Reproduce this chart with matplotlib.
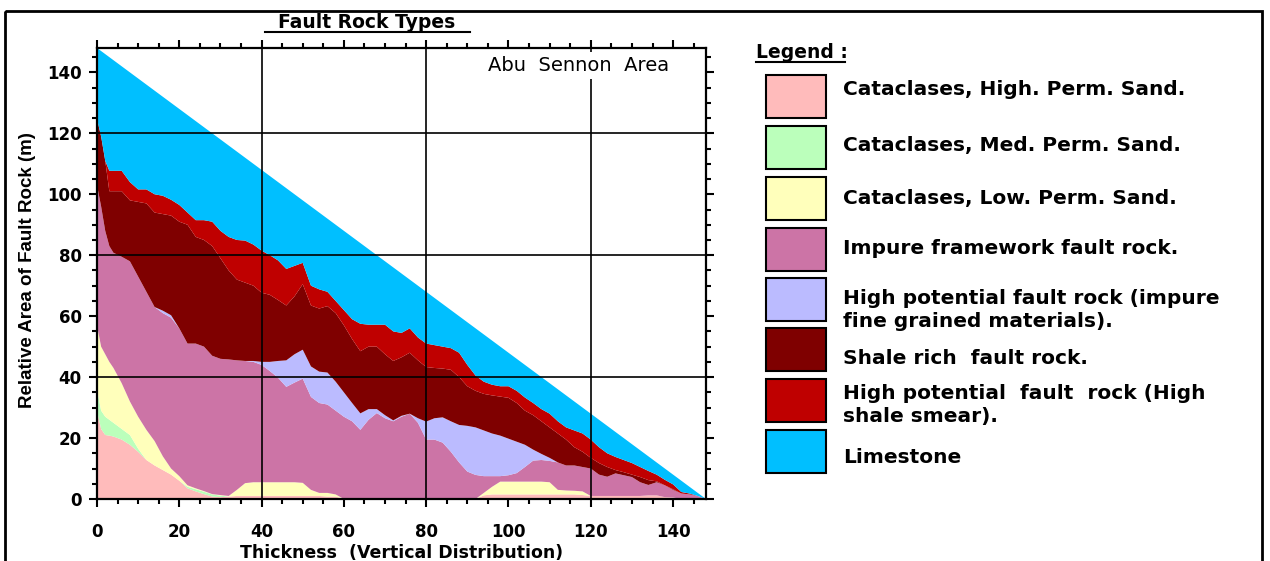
import matplotlib
matplotlib.use("Agg")  # no display
import matplotlib.pyplot as plt
from matplotlib.patches import Rectangle
from matplotlib.ticker import MultipleLocator

plt.rcParams['font.family'] = ['DejaVu Sans']

# Thickness (vertical distribution) sample positions
thickness = [0, 1, 2, 3, 4,
             6, 8, 10, 12, 14, 16, 18, 20, 22, 24, 26, 28, 30, 32, 34, 36, 38, 40,
             42, 44, 46, 48, 50, 52, 54, 56, 58, 60, 62, 64, 66, 68, 70, 72, 74, 76, 78, 80,
             82, 84, 86, 88, 90, 92, 94, 96, 98, 100, 102, 104, 106, 108, 110, 112, 114, 116, 118, 120,
             122, 124, 126, 128, 130, 132, 134, 136, 138, 140, 142, 144, 146, 148]

# Cumulative top of each fault rock band (m), bottom band first
high_perm_top = [29, 23, 21, 20.8, 20.5,
                 19.5, 17.8, 15.5, 12.8, 11, 9.5, 8, 6, 3.5, 2.5, 1.6, 0.8, 0.6, 0.8, 1, 1, 1, 1,
                 1, 1, 1, 1, 1, 1, 1, 0.8, 0.8, 0, 0, 0, 0, 0, 0, 0, 0, 0, 0, 0,
                 0, 0, 0, 0, 0, 0, 1.2, 1.5, 1.5, 1.5, 1.5, 1.5, 1.5, 1.5, 1.5, 1.5, 1.5, 1.5, 1.3, 1,
                 1, 1, 1, 1, 1, 1, 1.2, 1.2, 0.6, 0.5, 0, 0, 0, 0]

med_perm_top = [36, 29, 27, 26, 25,
                23, 21, 16.5, 12.8, 11, 9.5, 8, 6, 4, 3.2, 2.4, 1.5, 1.1, 0.8, 1, 1, 1, 1,
                1, 1, 1, 1, 1, 1, 1, 0.8, 0.8, 0, 0, 0, 0, 0, 0, 0, 0, 0, 0, 0,
                0, 0, 0, 0, 0, 0, 1.2, 1.5, 1.5, 1.5, 1.5, 1.5, 1.5, 1.5, 1.5, 1.5, 1.5, 1.5, 1.3, 1,
                1, 1, 1, 1, 1, 1, 1.2, 1.2, 0.6, 0.5, 0, 0, 0, 0]

low_perm_top = [57, 50, 47.5, 45, 43,
                38, 32, 27, 22.7, 19, 14, 10, 7.5, 4.5, 3.5, 2.6, 1.6, 1.3, 1, 3, 5.2, 5.5, 5.5,
                5.5, 5.5, 5.5, 5.5, 5.3, 3, 2, 2, 1.5, 0, 0, 0, 0, 0, 0, 0, 0, 0, 0, 0,
                0, 0, 0, 0, 0, 0, 2, 4, 5.7, 5.7, 5.7, 5.7, 5.7, 5.7, 5.5, 3, 2.8, 2.7, 2.5, 1,
                1, 1, 1, 1, 1, 1, 1.2, 1.2, 0.6, 0.5, 0, 0, 0, 0]

impure_top = [103, 96, 88, 83, 80.8,
              79.5, 78, 73, 68, 63, 61, 59.5, 56, 51, 51, 50, 47, 46, 45.8, 45.5, 45.3, 45, 44,
              42, 39.8, 36.8, 38.2, 39.5, 33.5, 31.5, 31, 29, 27, 25.5, 22.7, 26, 28.2, 26.5, 25.5, 27, 28, 25, 19.5,
              19.5, 18.5, 15.5, 12, 9, 7.9, 7.5, 7.5, 7.5, 7.8, 8.5, 10.5, 12.6, 12.8, 12.5, 12, 11, 11, 10.5, 10,
              8, 7.3, 8.4, 7.8, 7.2, 5.5, 4.6, 5.5, 4.5, 3, 1.8, 1.5, 1, 0]

impure_fine_top = [103, 96, 88, 83, 80.8,
                   79.5, 78, 73, 68, 63, 61.8, 60.3, 56, 51, 51, 50, 47, 46, 45.8, 45.5, 45.3, 45.3, 45,
                   45, 45.3, 45.5, 47.5, 49, 43.5, 41.8, 41.5, 38.5, 35, 31.5, 28.1, 29.5, 29.5, 27.5, 25.8, 27.3, 28, 26.5, 25.4,
                   26.5, 26.8, 25.5, 24.3, 24, 23.5, 22.5, 21.5, 20.8, 19.8, 18.8, 17.8, 16.2, 14.8, 13.5, 12, 11, 11, 10.5, 10,
                   8, 7.3, 8.4, 7.8, 7.2, 5.5, 4.6, 5.5, 4.5, 3, 1.8, 1.5, 1, 0]

shale_rich_top = [124.7, 119, 111, 101, 101,
                  101, 98, 97.5, 97, 94, 93.5, 93, 91, 90, 86, 85, 83, 79, 75, 72, 71, 70, 67.7,
                  67, 65.3, 63.5, 66.5, 70.5, 63.5, 62.5, 63.3, 61, 57, 52.5, 48.5, 50, 50, 47.5, 45.3, 46.5, 48, 45.5, 43.3,
                  43, 42.8, 42.4, 40, 37, 35.5, 34.5, 34, 33.6, 33.2, 31.5, 29, 27.5, 25.5, 23.5, 21.5, 19.5, 17, 15.5, 13.5,
                  11.8, 10.5, 9.5, 8.8, 8, 7.2, 6.2, 5.8, 4.5, 3.2, 1.8, 1.5, 1, 0]

shale_smear_top = [124.7, 119, 111, 107.7, 107.7,
                   107.7, 104, 101.6, 101.6, 100, 99.5, 98.2, 96.5, 94, 91.5, 91.5, 91, 88, 86, 85, 84.8, 83.5, 81.5,
                   80, 78.3, 75.5, 76.5, 77.5, 70, 68.8, 68, 65, 62, 59, 57.5, 57.2, 57.2, 57.2, 55, 54.5, 56, 53, 51,
                   50.5, 50, 49.5, 48, 44, 40.5, 38.5, 37.5, 37, 37, 35.5, 33.3, 31.5, 29.5, 28, 25.5, 23.5, 22.5, 21.5, 19.5,
                   17, 15, 13.8, 12.8, 11.8, 10.5, 9.2, 8, 6.3, 4.8, 2.3, 1.8, 1, 0]

limestone_top = [148, 147, 146, 145, 144,
                 142, 140, 138, 136, 134, 132, 130, 128, 126, 124, 122, 120, 118, 116, 114, 112, 110, 108,
                 106, 104, 102, 100, 98, 96, 94, 92, 90, 88, 86, 84, 82, 80, 78, 76, 74, 72, 70, 68,
                 66, 64, 62, 60, 58, 56, 54, 52, 50, 48, 46, 44, 42, 40, 38, 36, 34, 32, 30, 28,
                 26, 24, 22, 20, 18, 16, 14, 12, 10, 8, 6, 4, 2, 0]

legend_labels = [
    "Cataclases, High. Perm. Sand.",
    "Cataclases, Med. Perm. Sand.",
    "Cataclases, Low. Perm. Sand.",
    "Impure framework fault rock.",
    "High potential fault rock (impure\nfine grained materials).",
    "Shale rich  fault rock.",
    "High potential  fault  rock (High\nshale smear).",
    "Limestone",
]
colors = ["#FFBBBB", "#BBFFBB", "#FFFFBB", "#CC74A6",
          "#BBBBFF", "#7F0000", "#BF0000", "#00BFFF"]

tick_values = [0, 20, 40, 60, 80, 100, 120, 140]
grid_values = [40, 80, 120]

W, H = 1270, 561
fig = plt.figure(figsize=(W / 100, H / 100), dpi=100)
fig.patch.set_facecolor("white")

# plot area in pixel units
left, right, top, bottom = 97, 706, 48, 499
ax = fig.add_axes([left / W, 1 - bottom / H, (right - left) / W, (bottom - top) / H])

bands = [[0] * len(thickness), high_perm_top, med_perm_top, low_perm_top,
         impure_top, impure_fine_top, shale_rich_top, shale_smear_top, limestone_top]
for lower, upper, c in zip(bands[:-1], bands[1:], colors):
    ax.fill_between(thickness, lower, upper, facecolor=c, edgecolor="none",
                    linewidth=0, zorder=1)

for g in grid_values:
    ax.axvline(g, color="black", lw=1.2, zorder=2)
    ax.axhline(g, color="black", lw=1.2, zorder=2)

ax.set_xlim(0, 148)
ax.set_ylim(0, 148)
ax.set_xticks(tick_values)
ax.set_yticks(tick_values)
ax.xaxis.set_minor_locator(MultipleLocator(5))
ax.yaxis.set_minor_locator(MultipleLocator(5))
ax.tick_params(which="both", direction="out", top=True, right=True, width=1.5)
ax.tick_params(which="major", length=6)
ax.tick_params(which="minor", length=3.5)
ax.tick_params(axis="x", pad=11, labelsize=12)
ax.tick_params(axis="y", pad=5, labelsize=12)
for lab in ax.get_xticklabels() + ax.get_yticklabels():
    lab.set_fontweight("bold")
for sp in ax.spines.values():
    sp.set_linewidth(1.6)
    sp.set_zorder(3)

ax.set_xlabel("Thickness  (Vertical Distribution)", fontsize=12.5, fontweight="bold")
ax.xaxis.set_label_coords(0.5, -0.1)
ax.set_ylabel("Relative Area of Fault Rock (m)", fontsize=13.5, fontweight="bold",
              family=["Liberation Sans", "DejaVu Sans"])
ax.yaxis.set_label_coords(-0.1, 0.508)

ax.text(117, 142.3, "Abu  Sennon  Area", fontsize=14, ha="center", va="center",
        zorder=4, bbox=dict(facecolor="white", edgecolor="none", pad=3))

# overlay in pixel coordinates for the title, frame and legend
ov = fig.add_axes([0, 0, 1, 1], facecolor="none")
ov.set_xlim(0, W)
ov.set_ylim(H, 0)
ov.axis("off")

ov.add_patch(Rectangle((5, 11), 1257, 570, fill=False, edgecolor="black", lw=2))

ov.text(367, 22, "Fault Rock Types", fontsize=13.5, fontweight="bold",
        ha="center", va="center")
ov.plot([265, 470], [32, 32], color="black", lw=1.5)

ov.text(756, 52, "Legend :", fontsize=13.5, fontweight="bold", ha="left", va="center")
ov.plot([756, 845], [62, 62], color="black", lw=1.5)

box_tops = [75, 126, 177, 228, 278, 328, 379, 430]
label_y = [89, 145, 198, 248, 310, 358, 405, 457]
for bt, ly, c, lab in zip(box_tops, label_y, colors, legend_labels):
    ov.add_patch(Rectangle((766, bt), 60, 43, facecolor=c, edgecolor="black", lw=1.5))
    ov.text(843, ly, lab, fontsize=14.5, fontweight="bold", ha="left", va="center",
            linespacing=1.3)

fig.savefig("out.png", dpi=100, facecolor="white")
